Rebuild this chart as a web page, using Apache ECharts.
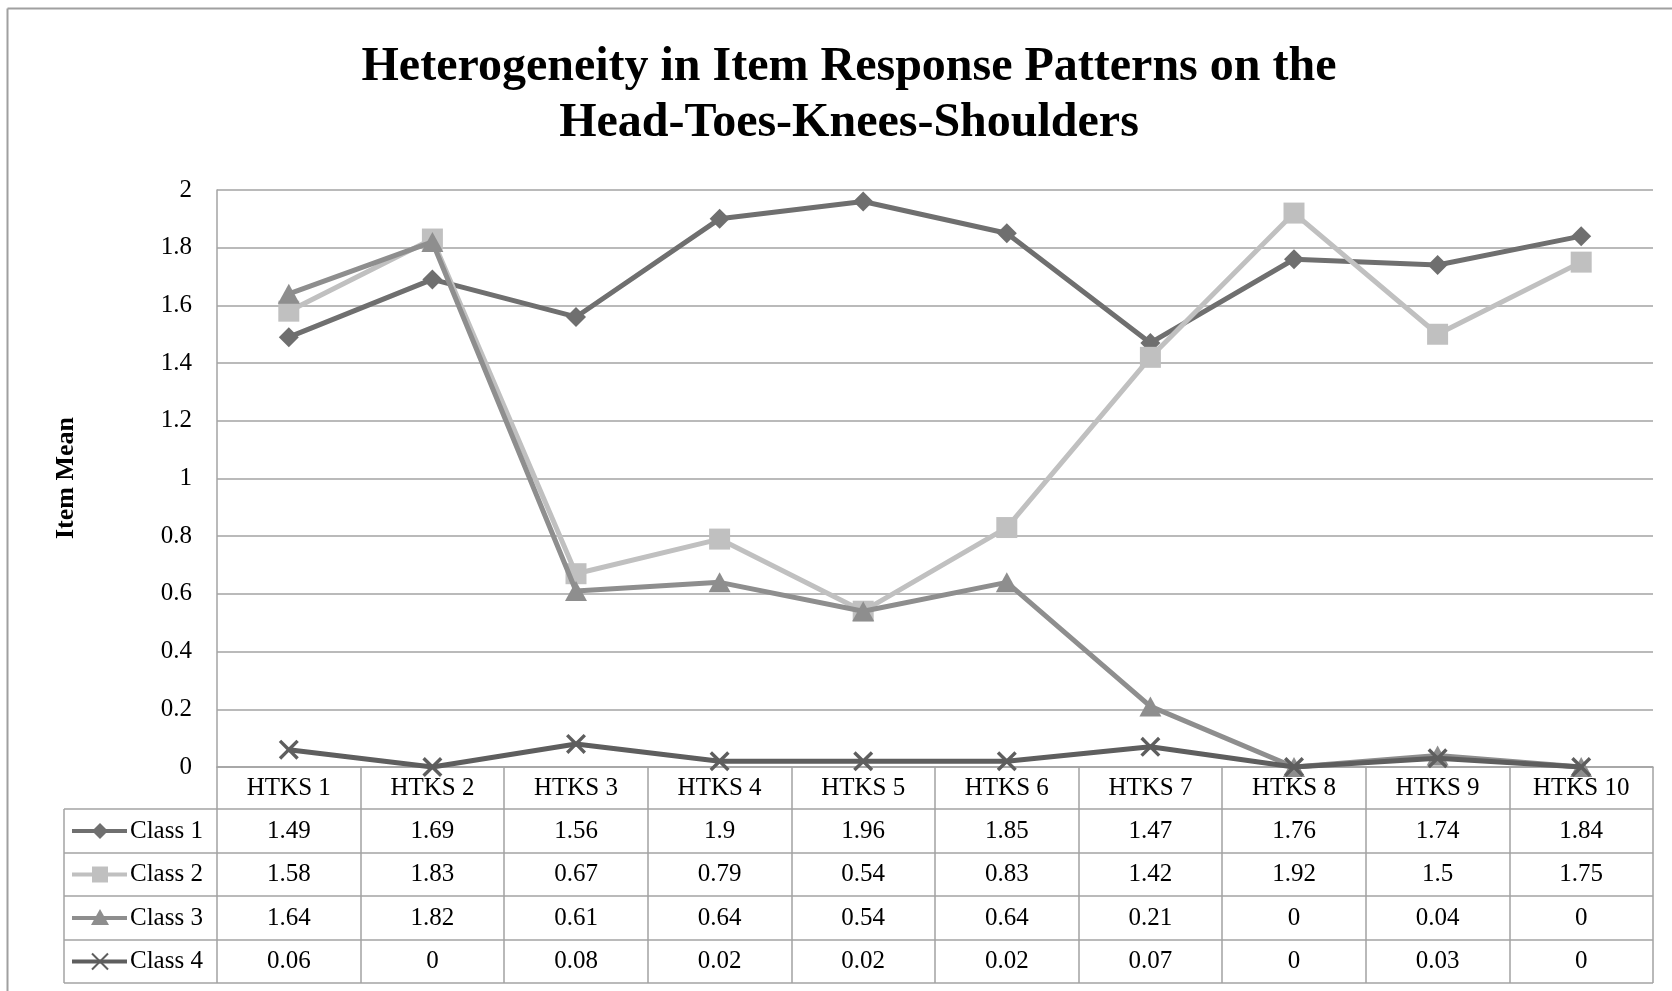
<!DOCTYPE html>
<html>
<head>
<meta charset="utf-8">
<script src="https://cdn.jsdelivr.net/npm/echarts@6/dist/echarts.min.js"></script>
<style>
html,body{margin:0;padding:0;background:#fff;}
#chart{width:1672px;height:991px;}
</style>
</head>
<body>
<div id="chart"></div>
<script>
const titleLines = ['Heterogeneity in Item Response Patterns on the', 'Head-Toes-Knees-Shoulders'];
const yAxisName = 'Item Mean';
const categories = ['HTKS 1','HTKS 2','HTKS 3','HTKS 4','HTKS 5','HTKS 6','HTKS 7','HTKS 8','HTKS 9','HTKS 10'];
const seriesNames = ['Class 1','Class 2','Class 3','Class 4'];
const class1 = [1.49,1.69,1.56,1.9,1.96,1.85,1.47,1.76,1.74,1.84];
const class2 = [1.58,1.83,0.67,0.79,0.54,0.83,1.42,1.92,1.5,1.75];
const class3 = [1.64,1.82,0.61,0.64,0.54,0.64,0.21,0,0.04,0];
const class4 = [0.06,0,0.08,0.02,0.02,0.02,0.07,0,0.03,0];
const yMin = 0, yMax = 2, yInterval = 0.2;

const seriesData = [class1, class2, class3, class4];
const colors = ['#6f6f6f', '#c0c0c0', '#8e8e8e', '#5e5e5e'];
const crossPath = 'path://M0,1.2L1.2,0L5,3.8L8.8,0L10,1.2L6.2,5L10,8.8L8.8,10L5,6.2L1.2,10L0,8.8L3.8,5Z';
const symbols = ['diamond', 'rect', 'triangle', crossPath];
const symbolSizes = [[20,20],[21,21],[22,20],[20,20]];
const serif = '"Liberation Serif","Times New Roman",serif';
const gridCol = '#a3a3a3';

const chart = echarts.init(document.getElementById('chart'), null, {renderer:'canvas'});

const G = {left:217, right:1653, top:190, bottom:767};
const rowLines = [809, 853, 896, 940, 983];
const tableLeft = 64;

chart.setOption({
  animation:false,
  backgroundColor:'#fff',
  grid:{left:G.left, right:1672-G.right, top:G.top, bottom:991-G.bottom, containLabel:false},
  xAxis:{
    type:'category', data:categories, boundaryGap:true,
    axisLine:{show:true, lineStyle:{color:gridCol, width:1.5}},
    axisTick:{show:true, inside:false, length:rowLines[4]-G.bottom, lineStyle:{color:gridCol, width:1.5}},
    axisLabel:{fontFamily:serif, fontSize:25, color:'#000', margin:21, verticalAlign:'middle', interval:0}
  },
  yAxis:{
    type:'value', min:yMin, max:yMax, interval:yInterval,
    axisLine:{show:true, lineStyle:{color:gridCol, width:1.5}},
    axisTick:{show:false},
    splitLine:{show:true, lineStyle:{color:gridCol, width:1.5}},
    axisLabel:{fontFamily:serif, fontSize:25, color:'#000', margin:25}
  },
  series: seriesNames.map((n,i)=>({
    name:n, type:'line', data:seriesData[i],
    symbol:symbols[i], symbolSize:symbolSizes[i], symbolKeepAspect:true, showAllSymbol:true,
    lineStyle:{color:colors[i], width:5},
    itemStyle:{color:colors[i]},
    z:2+i
  }))
});

function build(){
  const els = [];
  // outer frame
  els.push({type:'line', shape:{x1:7.5,y1:8.5,x2:1672,y2:8.5}, style:{stroke:'#a0a0a0', lineWidth:2}});
  els.push({type:'line', shape:{x1:7.5,y1:8.5,x2:7.5,y2:991}, style:{stroke:'#a0a0a0', lineWidth:2}});
  // title
  els.push({type:'text', x:849, y:68, style:{text:titleLines[0], font:'bold 48px '+serif, fill:'#000', textAlign:'center', textVerticalAlign:'middle'}});
  els.push({type:'text', x:849, y:124, style:{text:titleLines[1], font:'bold 48px '+serif, fill:'#000', textAlign:'center', textVerticalAlign:'middle'}});
  // y axis name
  els.push({type:'text', x:66, y:478, rotation:Math.PI/2, style:{text:yAxisName, font:'bold 26px '+serif, fill:'#000', textAlign:'center', textVerticalAlign:'middle'}});
  // table lines
  rowLines.forEach(y=>{
    els.push({type:'line', shape:{x1:tableLeft,y1:y,x2:G.right,y2:y}, style:{stroke:gridCol, lineWidth:1.5}});
  });
  els.push({type:'line', shape:{x1:tableLeft,y1:rowLines[0],x2:tableLeft,y2:rowLines[4]}, style:{stroke:gridCol, lineWidth:1.5}});
  // rows
  seriesNames.forEach((n,r)=>{
    const cy = (rowLines[r]+rowLines[r+1])/2;
    // legend key
    els.push({type:'line', shape:{x1:72,y1:cy,x2:127,y2:cy}, style:{stroke:colors[r], lineWidth:4}, z:10});
    const kx = 100;
    if(r===0){
      els.push({type:'polygon', shape:{points:[[kx,cy-8],[kx+8,cy],[kx,cy+8],[kx-8,cy]]}, style:{fill:colors[r]}, z:11});
    } else if(r===1){
      els.push({type:'rect', shape:{x:kx-8,y:cy-8,width:16,height:16}, style:{fill:colors[r]}, z:11});
    } else if(r===2){
      els.push({type:'polygon', shape:{points:[[kx,cy-9],[kx+9,cy+7],[kx-9,cy+7]]}, style:{fill:colors[r]}, z:11});
    } else {
      els.push({type:'line', shape:{x1:kx-8,y1:cy-8,x2:kx+8,y2:cy+8}, style:{stroke:colors[r], lineWidth:2}, z:11});
      els.push({type:'line', shape:{x1:kx-8,y1:cy+8,x2:kx+8,y2:cy-8}, style:{stroke:colors[r], lineWidth:2}, z:11});
    }
    els.push({type:'text', x:130, y:cy, style:{text:n, font:'25px '+serif, fill:'#000', textAlign:'left', textVerticalAlign:'middle'}, z:11});
    seriesData[r].forEach((v,i)=>{
      const px = chart.convertToPixel({xAxisIndex:0}, i);
      els.push({type:'text', x:px, y:cy, style:{text:String(v), font:'25px '+serif, fill:'#000', textAlign:'center', textVerticalAlign:'middle'}, z:11});
    });
  });
  chart.setOption({graphic:{elements:els}});
}
build();
</script>
</body>
</html>
